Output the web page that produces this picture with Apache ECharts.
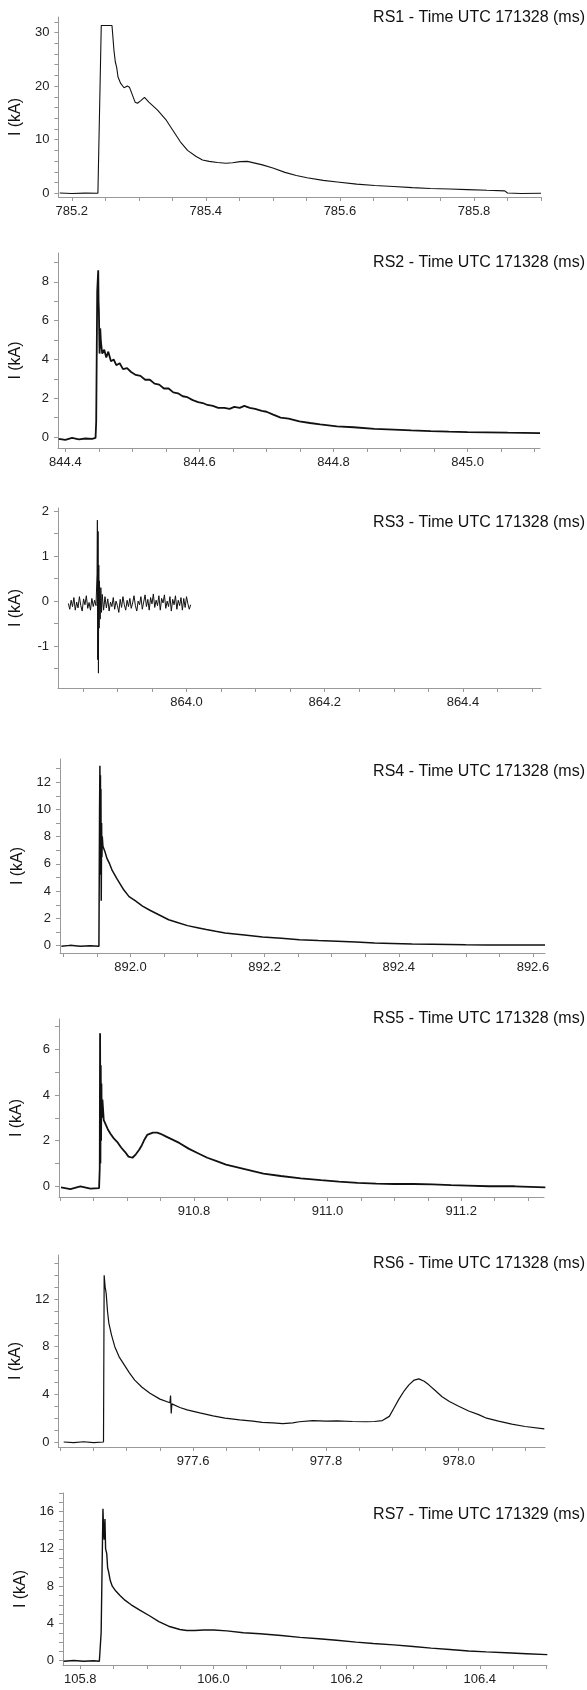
<!DOCTYPE html>
<html>
<head>
<meta charset="utf-8">
<script src="https://cdn.jsdelivr.net/npm/echarts@6/dist/echarts.min.js"></script>
<style>
  html, body { margin: 0; padding: 0; background: #fff; }
  #chart { width: 587px; height: 1690px; }
</style>
</head>
<body>
<div id="chart"></div>
<script>
// station titles
const titles = [
  'RS1 - Time UTC 171328 (ms)',
  'RS2 - Time UTC 171328 (ms)',
  'RS3 - Time UTC 171328 (ms)',
  'RS4 - Time UTC 171328 (ms)',
  'RS5 - Time UTC 171328 (ms)',
  'RS6 - Time UTC 171328 (ms)',
  'RS7 - Time UTC 171329 (ms)'
]

// current waveforms, [time (ms), I (kA)]
const rs1 = [
  [785.182, 0.05], [785.2, -0.05], [785.22, 0.02], [785.239, 0], [785.244, 31.3], [785.26, 31.3],
  [785.263, 26.6], [785.265, 24.5], [785.267, 23.5], [785.269, 21.7], [785.273, 20.5], [785.278, 19.7],
  [785.283, 20.0], [785.286, 19.8], [785.2945, 17.0], [785.298, 16.8], [785.303, 17.3], [785.3085, 17.9],
  [785.315, 17.0], [785.328, 15.5], [785.34, 13.8], [785.35, 11.9], [785.362, 9.6], [785.3727, 8.0],
  [785.385, 6.9], [785.395, 6.2], [785.405, 5.95], [785.4173, 5.75], [785.43, 5.6], [785.44, 5.7],
  [785.4509, 5.9], [785.462, 5.95], [785.4844, 5.3], [785.5, 4.7], [785.518, 3.9], [785.535, 3.3],
  [785.551, 2.9], [785.575, 2.4], [785.596, 2.1], [785.625, 1.7], [785.652, 1.45], [785.68, 1.25],
  [785.708, 1.05], [785.735, 0.9], [785.7635, 0.8], [785.79, 0.68], [785.8194, 0.55], [785.846, 0.45],
  [785.85, 0.05], [785.87, -0.05], [785.9, 0.0]
]
const rs2 = [
  [844.39, -0.1], [844.4, -0.15], [844.41, -0.05], [844.42, -0.12], [844.43, -0.08], [844.44, -0.1],
  [844.445, -0.05], [844.446, 0.8], [844.4475, 7.5], [844.449, 8.6], [844.4495, 7.0], [844.45, 6.5],
  [844.451, 4.3], [844.452, 5.6], [844.453, 4.9], [844.455, 4.3], [844.458, 4.5], [844.461, 4.1],
  [844.464, 4.4], [844.468, 3.9], [844.472, 4.0], [844.476, 3.7], [844.481, 3.8], [844.486, 3.5],
  [844.492, 3.55], [844.498, 3.35], [844.505, 3.2], [844.512, 3.15], [844.519, 2.95], [844.526, 2.95],
  [844.533, 2.75], [844.54, 2.7], [844.547, 2.5], [844.554, 2.5], [844.561, 2.3], [844.568, 2.25],
  [844.575, 2.1], [844.582, 2.05], [844.59, 1.9], [844.598, 1.8], [844.605, 1.75], [844.612, 1.65],
  [844.62, 1.6], [844.628, 1.5], [844.637, 1.5], [844.645, 1.45], [844.652, 1.55], [844.66, 1.5],
  [844.667, 1.6], [844.675, 1.5], [844.683, 1.45], [844.693, 1.35], [844.7, 1.3], [844.71, 1.15],
  [844.721, 1.0], [844.733, 0.95], [844.749, 0.8], [844.765, 0.72], [844.78, 0.65], [844.805, 0.55],
  [844.83, 0.5], [844.861, 0.42], [844.89, 0.38], [844.916, 0.34], [844.945, 0.3], [844.972, 0.27],
  [845.0, 0.25], [845.028, 0.24], [845.06, 0.22], [845.108, 0.2]
]
const rs3 = [
  [863.829, -0.05], [863.831, -0.18], [863.833, 0.02], [863.835, -0.12], [863.837, 0.08], [863.839, -0.2],
  [863.841, -0.02], [863.843, -0.15], [863.845, 0.1], [863.847, -0.1], [863.849, -0.22], [863.851, 0.05],
  [863.853, -0.08], [863.855, 0.12], [863.857, -0.16], [863.859, -0.03], [863.861, -0.2], [863.863, 0.06],
  [863.865, -0.12], [863.867, 0.02], [863.869, -0.1],
  [863.8705, 0.6], [863.871, 1.8], [863.8715, -1.3], [863.872, 1.55], [863.8725, -1.6], [863.873, 0.8],
  [863.8735, -0.6], [863.874, 0.45], [863.875, -0.4], [863.876, 0.3], [863.877, -0.25], [863.878, 0.15],
  [863.88, -0.2], [863.882, 0.1], [863.884, -0.15], [863.886, 0.05], [863.888, -0.22], [863.89, -0.02],
  [863.892, -0.12], [863.894, 0.08], [863.896, -0.18], [863.898, 0.0], [863.9, -0.1], [863.902, -0.25],
  [863.904, 0.04], [863.906, -0.14], [863.908, 0.1], [863.91, -0.08], [863.912, -0.2], [863.914, 0.02],
  [863.916, -0.12], [863.918, 0.06], [863.92, -0.16], [863.922, -0.04], [863.924, 0.12], [863.926, -0.1],
  [863.928, -0.22], [863.93, 0.0], [863.932, -0.08], [863.934, 0.1], [863.936, -0.18], [863.938, -0.02],
  [863.94, 0.14], [863.942, -0.12], [863.944, 0.04], [863.946, -0.2], [863.948, 0.08], [863.95, -0.06],
  [863.952, 0.16], [863.954, -0.14], [863.956, 0.02], [863.958, -0.1], [863.96, 0.12], [863.962, -0.2],
  [863.964, 0.06], [863.966, -0.04], [863.968, 0.14], [863.97, -0.16], [863.972, 0.0], [863.974, -0.12],
  [863.976, 0.1], [863.978, -0.22], [863.98, 0.04], [863.982, -0.08], [863.984, 0.12], [863.986, -0.18],
  [863.988, 0.02], [863.99, -0.1], [863.992, 0.08], [863.994, -0.2], [863.996, 0.06], [863.998, -0.14],
  [864.0, 0.1], [864.002, -0.06], [864.004, -0.18], [864.006, -0.08]
]
const rs4 = [
  [891.897, -0.05], [891.91, 0.02], [891.925, -0.05], [891.94, 0.0], [891.953, -0.05], [891.9536, 0.0],
  [891.954, 10.0], [891.9545, 13.2], [891.955, 7.0], [891.9553, 12.5], [891.9556, 5.2], [891.956, 11.5],
  [891.9565, 3.3], [891.957, 9.0], [891.9575, 6.5], [891.958, 8.0], [891.959, 7.3], [891.962, 6.9],
  [891.965, 6.4], [891.969, 6.0], [891.973, 5.5], [891.98, 4.9], [891.99, 4.1], [891.998, 3.6],
  [892.007, 3.3], [892.018, 2.9], [892.029, 2.6], [892.043, 2.25], [892.057, 1.9], [892.07, 1.7],
  [892.085, 1.47], [892.1, 1.32], [892.113, 1.18], [892.127, 1.05], [892.141, 0.93], [892.17, 0.78],
  [892.197, 0.64], [892.225, 0.54], [892.252, 0.44], [892.28, 0.37], [892.308, 0.32], [892.336, 0.26],
  [892.364, 0.2], [892.39, 0.16], [892.42, 0.12], [892.45, 0.1], [892.476, 0.08], [892.5, 0.06],
  [892.531, 0.05], [892.57, 0.05], [892.618, 0.05]
]
const rs5 = [
  [910.601, -0.05], [910.615, -0.12], [910.63, 0.0], [910.645, -0.1], [910.658, -0.08], [910.659, 0.8],
  [910.6595, 6.7], [910.66, 1.0], [910.6605, 5.3], [910.661, 2.0], [910.6615, 4.5], [910.662, 3.0],
  [910.663, 3.8], [910.665, 2.9], [910.668, 2.7], [910.671, 2.5], [910.675, 2.3], [910.68, 2.1],
  [910.685, 1.95], [910.691, 1.7], [910.697, 1.5], [910.702, 1.3], [910.708, 1.25], [910.713, 1.4],
  [910.718, 1.6], [910.722, 1.8], [910.726, 2.05], [910.73, 2.25], [910.7385, 2.35], [910.745, 2.35],
  [910.75, 2.3], [910.757, 2.2], [910.764, 2.1], [910.778, 1.9], [910.792, 1.65], [910.806, 1.45],
  [910.82, 1.25], [910.834, 1.1], [910.848, 0.95], [910.862, 0.85], [910.876, 0.75], [910.89, 0.65],
  [910.904, 0.55], [910.93, 0.45], [910.96, 0.35], [910.99, 0.27], [911.017, 0.2], [911.045, 0.15],
  [911.073, 0.12], [911.1, 0.1], [911.129, 0.1], [911.157, 0.08], [911.185, 0.05], [911.21, 0.03],
  [911.2415, 0.0], [911.28, 0.0], [911.326, -0.05]
]
const rs6 = [
  [977.405, 0.0], [977.42, -0.05], [977.435, 0.02], [977.45, -0.05], [977.465, 0.0], [977.466, 14.0],
  [977.4675, 13.0], [977.469, 12.5], [977.471, 11.0], [977.473, 10.0], [977.477, 9.0], [977.482, 8.0],
  [977.489, 7.1], [977.496, 6.5], [977.504, 5.8], [977.512, 5.2], [977.523, 4.6], [977.535, 4.1],
  [977.55, 3.6], [977.565, 3.3], [977.566, 3.9], [977.567, 2.4], [977.568, 3.2], [977.58, 2.9],
  [977.591, 2.7], [977.61, 2.45], [977.63, 2.2], [977.648, 2.0], [977.67, 1.85], [977.69, 1.75],
  [977.704, 1.65], [977.72, 1.6], [977.735, 1.55], [977.75, 1.6], [977.76, 1.7], [977.78, 1.8],
  [977.8, 1.75], [977.817, 1.78], [977.84, 1.72], [977.86, 1.7], [977.873, 1.72], [977.885, 1.8],
  [977.8955, 2.15], [977.903, 2.9], [977.91, 3.6], [977.918, 4.3], [977.925, 4.8], [977.933, 5.2],
  [977.94, 5.3], [977.948, 5.1], [977.955, 4.8], [977.965, 4.3], [977.975, 3.8], [977.986, 3.4],
  [978.0, 3.0], [978.015, 2.6], [978.03, 2.3], [978.042, 2.0], [978.06, 1.75], [978.08, 1.5],
  [978.1, 1.3], [978.129, 1.1]
]
const rs7 = [
  [105.775, -0.05], [105.79, 0.02], [105.805, -0.05], [105.82, 0.0], [105.8286, -0.05], [105.8313, 3.0],
  [105.834, 16.3], [105.835, 14.0], [105.8358, 13.0], [105.837, 15.2], [105.838, 12.0], [105.8397, 11.5],
  [105.841, 10.0], [105.8426, 9.5], [105.845, 8.6], [105.848, 8.0], [105.853, 7.5], [105.8596, 7.0],
  [105.867, 6.5], [105.8764, 6.0], [105.89, 5.4], [105.9045, 4.8], [105.918, 4.2], [105.9326, 3.7],
  [105.9496, 3.35], [105.96, 3.25], [105.972, 3.25], [105.985, 3.3], [106.0003, 3.3], [106.02, 3.2],
  [106.045, 3.0], [106.07, 2.9], [106.1017, 2.7], [106.13, 2.5], [106.158, 2.35], [106.185, 2.2],
  [106.2143, 2.0], [106.24, 1.85], [106.2707, 1.7], [106.3, 1.52], [106.327, 1.35], [106.355, 1.2],
  [106.3833, 1.05], [106.41, 0.95], [106.4396, 0.85], [106.47, 0.75], [106.5015, 0.65]
]
const waves = [rs1, rs2, rs3, rs4, rs5, rs6, rs7]

// tick labels
const xLabels = [
  [785.2, 785.4, 785.6, 785.8],
  [844.4, 844.6, 844.8, 845.0],
  [864.0, 864.2, 864.4],
  [892.0, 892.2, 892.4, 892.6],
  [910.8, 911.0, 911.2],
  [977.6, 977.8, 978.0],
  [105.8, 106.0, 106.2, 106.4]
]
const yLabels = [
  [0, 10, 20, 30],
  [0, 2, 4, 6, 8],
  [-1, 0, 1, 2],
  [0, 2, 4, 6, 8, 10, 12],
  [0, 2, 4, 6],
  [0, 4, 8, 12],
  [0, 4, 8, 12, 16]
]
const xMinorStep = 0.05
const yMinorStep = [2, 1, 0.5, 1, 1, 1, 1]

// panel boxes and axis extents
const panels = [
  { top: 17, height: 180, left: 58, width: 483, titleTop: 10, x: [785.18, 785.9], y: [-0.7, 32.9], lw: 1.1 },
  { top: 253, height: 195, left: 58, width: 482, titleTop: 255, x: [844.389, 845.108], y: [-0.57, 9.49], lw: 1.8 },
  { top: 508, height: 180, left: 58, width: 483, titleTop: 515, x: [863.814, 864.513], y: [-1.93, 2.07], lw: 1 },
  { top: 759, height: 194, left: 60, width: 485, titleTop: 764, x: [891.895, 892.618], y: [-0.54, 13.7], lw: 1.5 },
  { top: 1019, height: 178, left: 59, width: 485, titleTop: 1011, x: [910.598, 911.324], y: [-0.47, 7.33], lw: 1.8 },
  { top: 1255, height: 192, left: 58, width: 487, titleTop: 1256, x: [977.397, 978.13], y: [-0.42, 15.7], lw: 1.2 },
  { top: 1493, height: 172, left: 63, width: 484, titleTop: 1507, x: [105.774, 106.501], y: [-0.46, 18], lw: 1.4 }
]

const font = '"Liberation Sans", Arial, sans-serif'

function tickValues(lo, hi, step) {
  const out = []
  const k0 = Math.ceil(lo / step - 1e-6)
  const k1 = Math.floor(hi / step + 1e-6)
  for (let k = k0; k <= k1; k++) {
    out.push(Math.round(k * step * 10000) / 10000)
  }
  return out
}

const chart = echarts.init(document.getElementById('chart'), null, { renderer: 'canvas' })

const grid = []
const xAxis = []
const yAxis = []
const series = []
const title = []

panels.forEach((p, i) => {
  grid.push({ left: p.left, top: p.top, width: p.width, height: p.height, containLabel: false })
  title.push({
    text: titles[i],
    right: 2,
    top: p.titleTop,
    padding: 0,
    textStyle: { fontFamily: font, fontSize: 16, fontWeight: 'normal', color: '#111' }
  })
  xAxis.push({
    type: 'value',
    gridIndex: i,
    min: p.x[0],
    max: p.x[1],
    position: 'bottom',
    axisLine: { show: true, onZero: false, lineStyle: { color: '#999', width: 1 } },
    axisTick: {
      show: true,
      length: 4,
      customValues: tickValues(p.x[0], p.x[1], xMinorStep),
      lineStyle: { color: '#999' }
    },
    axisLabel: {
      customValues: xLabels[i],
      formatter: v => v.toFixed(1),
      margin: 8,
      color: '#222',
      fontSize: 13,
      fontFamily: font
    },
    splitLine: { show: false }
  })
  yAxis.push({
    type: 'value',
    gridIndex: i,
    min: p.y[0],
    max: p.y[1],
    name: 'I (kA)',
    nameLocation: 'middle',
    nameGap: 34,
    nameTextStyle: { fontSize: 16, fontFamily: font, color: '#111', padding: [0, 20, 0, 0] },
    axisLine: { show: true, lineStyle: { color: '#999', width: 1 } },
    axisTick: {
      show: true,
      length: 4,
      customValues: tickValues(p.y[0], p.y[1], yMinorStep[i]),
      lineStyle: { color: '#999' }
    },
    axisLabel: {
      customValues: yLabels[i],
      margin: 9,
      color: '#222',
      fontSize: 13,
      fontFamily: font
    },
    splitLine: { show: false }
  })
  series.push({
    type: 'line',
    xAxisIndex: i,
    yAxisIndex: i,
    data: waves[i],
    showSymbol: false,
    symbol: 'none',
    sampling: false,
    lineStyle: { color: '#111', width: p.lw },
    emphasis: { disabled: true }
  })
})

chart.setOption({
  animation: false,
  backgroundColor: '#fff',
  title: title,
  grid: grid,
  xAxis: xAxis,
  yAxis: yAxis,
  series: series
})
</script>
</body>
</html>
